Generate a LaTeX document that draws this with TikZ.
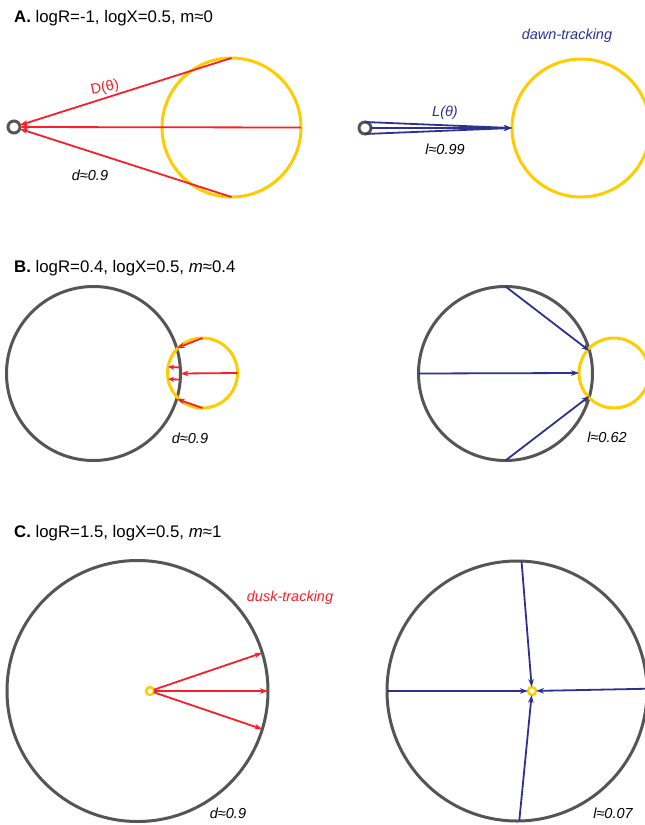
\documentclass[tikz,border=0pt]{standalone}
\usepackage{fontspec}
\setmainfont{Liberation Sans}
\usetikzlibrary{arrows.meta}
\definecolor{cgray}{RGB}{85,85,85}
\definecolor{cyel}{RGB}{255,204,0}
\definecolor{cred}{RGB}{250,30,40}
\definecolor{cblue}{RGB}{46,49,146}
\tikzset{
  gc/.style={circle,draw=cgray,line width=3pt,inner sep=0pt,outer sep=0pt},
  yc/.style={circle,draw=cyel,line width=3pt,inner sep=0pt,outer sep=0pt},
  redarrow/.style={draw=cred,line width=1.8pt,-{Stealth[length=8pt,width=5.5pt]}},
  bluearrow/.style={draw=cblue,line width=1.8pt,-{Stealth[length=8pt,width=5.5pt]}},
  ttl/.style={anchor=base west,inner sep=0pt,font=\fontsize{16.8}{19}\selectfont},
  lbl/.style={inner sep=0pt,font=\fontsize{14.5}{17}\selectfont\itshape}
}
\begin{document}
\begin{tikzpicture}[x=1pt,y=-1pt]
\useasboundingbox (0,0) rectangle (645,825);
\clip (0,0) rectangle (645,825);
% ---------- A ----------
\node[ttl] (tA) at (14,22) {\textbf{A.} logR=-1, logX=0.5, m≈0};
\node[gc,minimum size=12pt] (oA) at (14,127) {};
\node[yc,minimum size=139pt] (yA) at (231.5,127.5) {};
\draw[redarrow] (yA.90) -- (oA);
\draw[redarrow] (yA.0) -- (oA);
\draw[redarrow] (yA.270) -- (oA);
\node[lbl,text=cred,font=\fontsize{14.5}{17}\selectfont,rotate=12] (DA) at (105,88) {D(θ)};
\node[lbl] (dA) at (90,175) {d≈0.9};
\node[gc,minimum size=12pt] (oA2) at (365,128) {};
\node[yc,minimum size=138pt] (yA2) at (581,128) {};
\draw[bluearrow] (oA2.90) -- (yA2.180);
\draw[bluearrow] (oA2.0) -- (yA2.180);
\draw[bluearrow] (oA2.270) -- (yA2.180);
\node[lbl,text=cblue] (LA) at (445,113) {L(θ)};
\node[lbl] (lA) at (445,149) {l≈0.99};
\node[lbl,text=cblue] (dawn) at (567,36) {dawn-tracking};
% ---------- B ----------
\node[ttl] (tB) at (14,272) {\textbf{B.} logR=0.4, logX=0.5, \textit{m}≈0.4};
\node[gc,minimum size=174pt] (gB) at (93.5,373.5) {};
\node[yc,minimum size=70pt] (yB) at (202.5,373) {};
\draw[redarrow] (yB.90) -- (gB.17);
\draw[redarrow] (yB.0) -- (gB.0);
\draw[redarrow] (yB.270) -- (gB.-17);
\draw[redarrow,-{Stealth[length=6pt,width=5pt]}] (gB.4) -- (yB.170);
\draw[redarrow,-{Stealth[length=6pt,width=5pt]}] (gB.-4) -- (yB.190);
\node[lbl] (dB) at (190,438) {d≈0.9};
\node[gc,minimum size=174pt] (gB2) at (505.5,373.5) {};
\node[yc,minimum size=70pt] (yB2) at (614,373) {};
\draw[bluearrow] (gB2.90) -- (gB2.15);
\draw[bluearrow] (gB2.180) -- (yB2.180);
\draw[bluearrow] (gB2.270) -- (gB2.-15);
\node[lbl] (lB) at (607,437) {l≈0.62};
% ---------- C ----------
\node[ttl] (tC) at (14,537) {\textbf{C.} logR=1.5, logX=0.5, \textit{m}≈1};
\node[gc,minimum size=261pt] (gC) at (137.5,691) {};
\node[yc,line width=2.4pt,minimum size=8pt] (yC) at (150,691) {};
\draw[redarrow] (yC) -- (gC.17);
\draw[redarrow] (yC) -- (gC.0);
\draw[redarrow] (yC) -- (gC.-17);
\node[lbl,text=cred] (dusk) at (290,598) {dusk-tracking};
\node[lbl] (dC) at (228,813) {d≈0.9};
\node[gc,minimum size=260pt] (gC2) at (517,691) {};
\node[yc,line width=2.4pt,minimum size=8pt] (yC2) at (532,691) {};
\draw[bluearrow] (gC2.88.7) -- (yC2);
\draw[bluearrow] (gC2.180) -- (yC2);
\draw[bluearrow] (gC2.1) -- (yC2);
\draw[bluearrow] (gC2.271.3) -- (yC2);
\node[lbl] (lC) at (613,813) {l≈0.07};
\end{tikzpicture}
\end{document}
